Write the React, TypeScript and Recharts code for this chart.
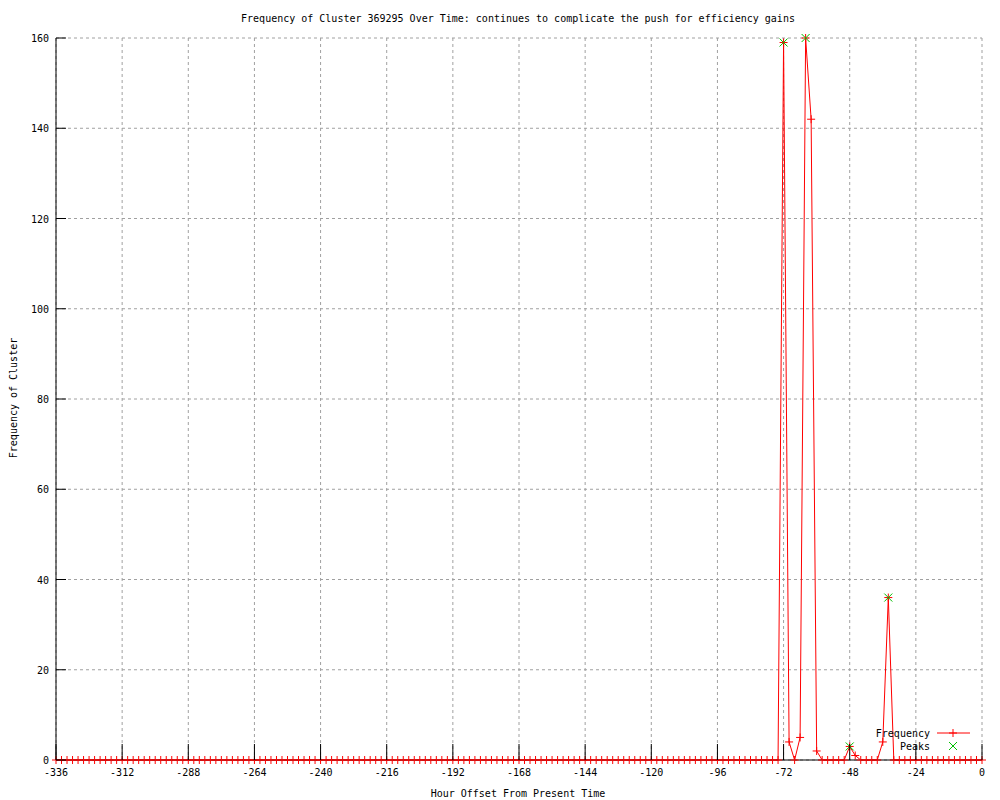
import React from 'react';
import {
    ComposedChart,
    Line,
    XAxis,
    YAxis,
    CartesianGrid,
    Legend
} from 'recharts';

// hours before present, sampled every 2 hours from -336 to 0
const HOUR_START = -336;
const HOUR_STEP = 2;

const frequency: number[] = [
    0, 0, 0, 0, 0, 0, 0, 0, 0, 0, 0, 0,
    0, 0, 0, 0, 0, 0, 0, 0, 0, 0, 0, 0,
    0, 0, 0, 0, 0, 0, 0, 0, 0, 0, 0, 0,
    0, 0, 0, 0, 0, 0, 0, 0, 0, 0, 0, 0,
    0, 0, 0, 0, 0, 0, 0, 0, 0, 0, 0, 0,
    0, 0, 0, 0, 0, 0, 0, 0, 0, 0, 0, 0,
    0, 0, 0, 0, 0, 0, 0, 0, 0, 0, 0, 0,
    0, 0, 0, 0, 0, 0, 0, 0, 0, 0, 0, 0,
    0, 0, 0, 0, 0, 0, 0, 0, 0, 0, 0, 0,
    0, 0, 0, 0, 0, 0, 0, 0, 0, 0, 0, 0,
    0, 0, 0, 0, 0, 0, 0, 0, 0, 0, 0, 0,
    159, 4, 0, 5, 160, 142, 2, 0, 0, 0, 0, 0,
    3, 1, 0, 0, 0, 0, 4, 36, 0, 0, 0, 0,
    0, 0, 0, 0, 0, 0, 0, 0, 0, 0, 0, 0,
    0,
];

const peakHours = [-72, -64, -48, -34];
const peakValues = [159, 160, 3, 36];

const xTicks = [-336, -312, -288, -264, -240, -216, -192, -168, -144, -120, -96, -72, -48, -24, 0];
const yTicks = [0, 20, 40, 60, 80, 100, 120, 140, 160];

const chartData = frequency.map((freq, i) => {
    const hour = HOUR_START + i * HOUR_STEP;
    const p = peakHours.indexOf(hour);
    return { hour, freq, peak: p >= 0 ? peakValues[p] : null };
});

const FONT = 'DejaVu Sans Mono';
const RED = '#ff0000';
const GREEN = '#00c000';
const X_TIC = 16;
const Y_TIC = 10;

const XTickBottom = (props: any) => {
    const { x, y, payload } = props;
    return (
        <g>
            <line x1={x} y1={y} x2={x} y2={y - X_TIC} stroke="#000" />
            <text x={x} y={y + 16} textAnchor="middle" fontFamily={FONT} fontSize={10} fill="#000">
                {payload.value}
            </text>
        </g>
    );
};

const XTickTop = (props: any) => {
    const { x, y } = props;
    return <line x1={x} y1={y} x2={x} y2={y + X_TIC} stroke="#000" />;
};

const YTickLeft = (props: any) => {
    const { x, y, payload } = props;
    return (
        <g>
            <line x1={x} y1={y} x2={x + Y_TIC} y2={y} stroke="#000" />
            <text x={x - 7} y={y + 4} textAnchor="end" fontFamily={FONT} fontSize={10} fill="#000">
                {payload.value}
            </text>
        </g>
    );
};

const YTickRight = (props: any) => {
    const { x, y } = props;
    return <line x1={x} y1={y} x2={x - Y_TIC} y2={y} stroke="#000" />;
};

const PlusDot = (props: any) => {
    const { cx, cy, index } = props;
    if (cx == null || cy == null) return <g key={`p${index}`} />;
    return (
        <g key={`p${index}`}>
            <line x1={cx - 4} y1={cy} x2={cx + 4} y2={cy} stroke={RED} />
            <line x1={cx} y1={cy - 4} x2={cx} y2={cy + 4} stroke={RED} />
        </g>
    );
};

const CrossDot = (props: any) => {
    const { cx, cy, index, payload } = props;
    if (cx == null || cy == null || payload.peak == null) return <g key={`x${index}`} />;
    return (
        <g key={`x${index}`}>
            <line x1={cx - 4} y1={cy - 4} x2={cx + 4} y2={cy + 4} stroke={GREEN} />
            <line x1={cx - 4} y1={cy + 4} x2={cx + 4} y2={cy - 4} stroke={GREEN} />
        </g>
    );
};

const KeyBox = () => (
    <svg width={110} height={30}>
        <text x={64} y={10} textAnchor="end" fontFamily={FONT} fontSize={10} fill="#000">Frequency</text>
        <line x1={71} y1={6} x2={104} y2={6} stroke={RED} />
        <line x1={83} y1={6} x2={91} y2={6} stroke={RED} />
        <line x1={87} y1={2} x2={87} y2={10} stroke={RED} />
        <text x={64} y={23} textAnchor="end" fontFamily={FONT} fontSize={10} fill="#000">Peaks</text>
        <line x1={83} y1={15} x2={91} y2={23} stroke={GREEN} />
        <line x1={83} y1={23} x2={91} y2={15} stroke={GREEN} />
    </svg>
);

export default function App() {
    return (
        <div style={{ position: 'absolute', left: 0, top: 0, width: 1000, height: 800, background: '#fff' }}>
            <ComposedChart width={1000} height={800} data={chartData} margin={{ top: 38, right: 18, bottom: 0, left: 6 }}>
                <CartesianGrid xAxisId="bottom" yAxisId="left" stroke="#a0a0a0" strokeDasharray="3 3" />
                <XAxis
                    xAxisId="bottom"
                    dataKey="hour"
                    type="number"
                    domain={[-336, 0]}
                    ticks={xTicks}
                    interval={0}
                    height={40}
                    tickSize={0}
                    tickMargin={0}
                    tick={<XTickBottom />}
                    axisLine={{ stroke: '#000' }}
                />
                <XAxis
                    xAxisId="top"
                    orientation="top"
                    dataKey="hour"
                    type="number"
                    domain={[-336, 0]}
                    ticks={xTicks}
                    interval={0}
                    height={0}
                    tickSize={0}
                    tickMargin={0}
                    tick={<XTickTop />}
                    axisLine={{ stroke: '#000' }}
                />
                <YAxis
                    yAxisId="left"
                    type="number"
                    domain={[0, 160]}
                    ticks={yTicks}
                    interval={0}
                    width={50}
                    tickSize={0}
                    tickMargin={0}
                    tick={<YTickLeft />}
                    axisLine={{ stroke: '#000' }}
                />
                <YAxis
                    yAxisId="right"
                    orientation="right"
                    type="number"
                    domain={[0, 160]}
                    ticks={yTicks}
                    interval={0}
                    width={0}
                    tickSize={0}
                    tickMargin={0}
                    tick={<YTickRight />}
                    axisLine={{ stroke: '#000' }}
                />
                <Line
                    xAxisId="bottom"
                    yAxisId="left"
                    type="linear"
                    dataKey="freq"
                    name="Frequency"
                    stroke={RED}
                    strokeWidth={1}
                    dot={PlusDot}
                    activeDot={false}
                    isAnimationActive={false}
                />
                <Line
                    xAxisId="bottom"
                    yAxisId="left"
                    type="linear"
                    dataKey="peak"
                    name="Peaks"
                    stroke="none"
                    dot={CrossDot}
                    activeDot={false}
                    isAnimationActive={false}
                />
                <Legend
                    layout="vertical"
                    align="center"
                    verticalAlign="middle"
                    content={() => <KeyBox />}
                    wrapperStyle={{ position: 'absolute', left: 866, top: 727, width: 110, height: 30 }}
                />
            </ComposedChart>
            <svg width={1000} height={800} style={{ position: 'absolute', left: 0, top: 0, pointerEvents: 'none' }}>
                <text x={518} y={22} textAnchor="middle" fontFamily={FONT} fontSize={10} fill="#000">
                    Frequency of Cluster 369295 Over Time: continues to complicate the push for efficiency gains
                </text>
                <text x={518} y={797} textAnchor="middle" fontFamily={FONT} fontSize={10} fill="#000">
                    Hour Offset From Present Time
                </text>
                <text
                    x={17}
                    y={398}
                    textAnchor="middle"
                    fontFamily={FONT}
                    fontSize={10}
                    fill="#000"
                    transform="rotate(-90 17 398)"
                >
                    Frequency of Cluster
                </text>
            </svg>
        </div>
    );
}
